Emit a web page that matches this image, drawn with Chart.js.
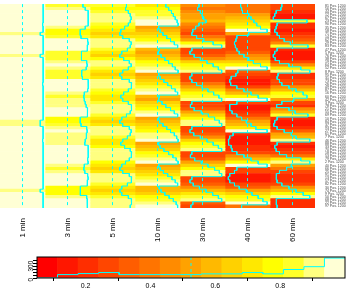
<!DOCTYPE html>
<html><head><meta charset="utf-8">
<script src="https://cdn.jsdelivr.net/npm/chart.js@4"></script>
<style>
body{margin:0;background:#fff;width:349px;height:294px;overflow:hidden;position:relative}
#heat{position:absolute;left:0;top:0}
#key{position:absolute;left:0;top:250px}
</style></head><body>
<canvas id="heat" width="349" height="250"></canvas>
<canvas id="key" width="349" height="44"></canvas>
<script>
// columns of the heatmap
var times = ["1 min","3 min","5 min","10 min","30 min","40 min","60 min"];

var rowLabels = [
 "81 Pos. 1200","56 Pos. 1200","44 Pos. 1200","12 Pos. 1200","67 Pos. 1200","23 Pos. 1200","90 Pos. 1200","35 Pos. 1200","58 Pos. 1200","71 Pos. 1200",
 "14 Pos. 1200","62 Pos. 1200","29 Pos. 1200","83 Pos. 1200","47 Pos. 1200","5 Pos. 1200","76 Pos. 1200","38 Pos. 1200","19 Pos. 1200","64 Pos. 1200",
 "52 Pos. 1200","8 Pos. 1200","95 Pos. 1200","31 Pos. 1200","73 Pos. 1200","26 Pos. 1200","49 Pos. 1200","87 Pos. 1200","16 Pos. 1200","60 Pos. 1200",
 "42 Pos. 1200","3 Pos. 1200","78 Pos. 1200","21 Pos. 1200","55 Pos. 1200","69 Pos. 1200","10 Pos. 1200","84 Pos. 1200","37 Pos. 1200","93 Pos. 1200",
 "27 Pos. 1200","61 Pos. 1200","7 Pos. 1200","46 Pos. 1200","88 Pos. 1200","33 Pos. 1200","70 Pos. 1200","18 Pos. 1200","53 Pos. 1200","79 Pos. 1200",
 "2 Pos. 1200","40 Pos. 1200","66 Pos. 1200","25 Pos. 1200","91 Pos. 1200","13 Pos. 1200","57 Pos. 1200","82 Pos. 1200","30 Pos. 1200","74 Pos. 1200",
 "9 Pos. 1200","50 Pos. 1200","68 Pos. 1200","22 Pos. 1200","97 Pos. 1200"
];

// values, one list per column, top row first
var v1min = [.96,.96,.96,.97,.96,.96,.95,.96,.96,.90,
 .96,.96,.96,.97,.96,.96,.90,.96,.96,.96,
 .96,.97,.96,.96,.96,.95,.96,.96,.96,.96,
 .96,.96,.96,.96,.97,.96,.96,.90,.90,.96,
 .96,.96,.96,.95,.96,.96,.96,.96,.96,.97,
 .96,.96,.96,.96,.96,.96,.96,.96,.96,.90,
 .96,.96,.96,.96,.96];
var v3min = [.85,.90,.96,.96,.97,.96,.96,.90,.80,.79,
 .81,.95,.96,.95,.94,.82,.81,.83,.93,.94,
 .92,.83,.82,.84,.96,.97,.96,.95,.88,.87,
 .88,.90,.92,.95,.95,.94,.80,.79,.81,.93,
 .94,.93,.92,.90,.89,.96,.96,.97,.96,.95,
 .96,.88,.87,.89,.95,.96,.95,.94,.80,.79,
 .80,.93,.94,.95,.94];
var v5min = [.82,.80,.86,.90,.92,.90,.86,.78,.70,.68,
 .74,.88,.92,.90,.84,.72,.68,.76,.88,.92,
 .86,.74,.68,.72,.88,.93,.92,.86,.76,.70,
 .74,.86,.92,.93,.90,.82,.72,.68,.74,.88,
 .92,.90,.84,.74,.70,.78,.90,.93,.92,.88,
 .80,.72,.68,.74,.88,.93,.92,.84,.72,.68,
 .72,.86,.92,.93,.90];
var v10min = [.70,.76,.82,.86,.90,.94,.96,.55,.58,.64,
 .72,.80,.88,.95,.56,.54,.60,.68,.76,.84,
 .90,.96,.55,.58,.66,.74,.82,.90,.95,.56,
 .55,.62,.70,.80,.88,.95,.55,.57,.64,.72,
 .80,.88,.93,.96,.55,.58,.66,.76,.85,.92,
 .96,.55,.58,.65,.74,.83,.90,.95,.56,.60,
 .68,.77,.86,.92,.95];
var v30min = [.45,.42,.48,.52,.55,.60,.45,.38,.32,.30,
 .40,.55,.75,.93,.30,.26,.35,.48,.62,.75,
 .86,.93,.30,.26,.30,.40,.52,.64,.76,.87,
 .93,.30,.27,.35,.50,.65,.78,.88,.93,.30,
 .26,.34,.48,.62,.75,.86,.93,.30,.27,.36,
 .50,.64,.78,.88,.93,.30,.26,.33,.46,.60,
 .74,.86,.93,.32,.28];
var v40min = [.38,.40,.42,.55,.60,.66,.72,.80,.94,.55,
 .30,.28,.25,.27,.30,.35,.45,.55,.65,.80,
 .94,.32,.28,.18,.15,.17,.30,.45,.60,.75,
 .94,.30,.15,.15,.20,.30,.40,.50,.60,.70,
 .94,.22,.15,.12,.13,.18,.20,.30,.45,.60,
 .75,.94,.30,.25,.15,.12,.15,.25,.35,.50,
 .62,.75,.85,.94,.40];
var v60min = [.30,.28,.18,.15,.12,.83,.20,.18,.15,.20,
 .25,.35,.48,.85,.20,.15,.12,.16,.25,.45,
 .70,.89,.22,.20,.25,.30,.45,.60,.75,.83,
 .55,.30,.19,.45,.58,.85,.20,.15,.13,.20,
 .35,.50,.60,.89,.20,.15,.18,.25,.40,.70,
 .89,.50,.40,.25,.19,.18,.20,.30,.45,.60,
 .75,.89,.19,.18,.20];
var columns = [v1min, v3min, v5min, v10min, v30min, v40min, v60min];

// colour key: bin counts of the histogram
var keyCounts = [0,59,77,95,59,59,59,59,72,72,95,72,148,197,347];
var keyTicks = [0.2,0.4,0.6,0.8];

var lo = 0.05, hi = 1.0, nBins = 15, vline = 0.525;
var palette = ['#FF0000','#FF1700','#FF2E00','#FF4600','#FF5D00','#FF7400','#FF8B00',
 '#FFA200','#FFB900','#FFD100','#FFE800','#FFFF00','#FFFF2A','#FFFF80','#FFFFD5'];
var binW = (hi - lo) / nBins;
var trace = '#00FFFF';

function colorOf(v) {
  var b = Math.floor((v - lo) / binW);
  if (b < 0) b = 0;
  if (b > nBins - 1) b = nBins - 1;
  return palette[b];
}
function scale01(v) { return (v - lo) / (hi - lo); }

var nRows = rowLabels.length;
var datasets = [];
columns.forEach(function (col, c) {
  datasets.push({
    type: 'bar', order: 2, grouped: false,
    data: col.map(function (v, r) { return {x: times[c], y: [r, r + 1]}; }),
    backgroundColor: col.map(colorOf),
    borderWidth: 0, barPercentage: 1, categoryPercentage: 1,
    xAxisID: 'x', yAxisID: 'y'
  });
});
columns.forEach(function (col, c) {
  var pts = [];
  col.forEach(function (v, r) {
    pts.push({x: c + scale01(v), y: r});
    pts.push({x: c + scale01(v), y: r + 1});
  });
  datasets.push({
    type: 'line', order: 0, data: pts, borderColor: trace, borderWidth: 1,
    pointRadius: 0, tension: 0, fill: false, xAxisID: 'x2', yAxisID: 'y'
  });
  datasets.push({
    type: 'line', order: 1,
    data: [{x: c + scale01(vline), y: 0}, {x: c + scale01(vline), y: nRows}],
    borderColor: trace, borderWidth: 1, borderDash: [3, 3],
    pointRadius: 0, fill: false, xAxisID: 'x2', yAxisID: 'y'
  });
});

new Chart(document.getElementById('heat'), {
  type: 'bar',
  data: {labels: times, datasets: datasets},
  options: {
    responsive: false, animation: false,
    layout: {padding: 0},
    plugins: {legend: {display: false}, tooltip: {enabled: false}},
    scales: {
      x: {
        type: 'category', offset: true,
        grid: {display: false}, border: {display: false},
        ticks: {minRotation: 90, maxRotation: 90, color: '#000', padding: 2,
          font: {family: 'Liberation Sans', size: 8}},
        afterFit: function (s) { s.height = 42; }
      },
      x2: {type: 'linear', min: 0, max: times.length, offset: false, display: false},
      y: {type: 'linear', min: 0, max: nRows, reverse: true, offset: false, display: false},
      y2: {
        type: 'category', position: 'right', labels: rowLabels, offset: true,
        grid: {display: false}, border: {display: false},
        ticks: {autoSkip: false, color: '#444', padding: 2,
          font: {family: 'Liberation Sans', size: 3.5}},
        afterFit: function (s) { s.width = 34; }
      }
    }
  }
});

// colour key with histogram
var maxCount = Math.max.apply(null, keyCounts);
var yTop = maxCount / 0.95;
var histPts = [];
keyCounts.forEach(function (n, i) {
  histPts.push({x: lo + i * binW, y: n});
  histPts.push({x: lo + (i + 1) * binW, y: n});
});

var frame = {
  id: 'frame',
  afterDatasetsDraw: function (chart) {
    var a = chart.chartArea, ctx = chart.ctx;
    ctx.save();
    ctx.strokeStyle = '#000';
    ctx.lineWidth = 1;
    ctx.strokeRect(a.left, a.top, a.right - a.left, a.bottom - a.top);
    ctx.restore();
  }
};

new Chart(document.getElementById('key'), {
  type: 'bar',
  data: {
    datasets: [
      {type: 'line', order: 0, data: histPts, borderColor: trace, borderWidth: 1,
        pointRadius: 0, tension: 0, fill: false},
      {type: 'line', order: 1, data: [{x: vline, y: 0}, {x: vline, y: yTop}],
        borderColor: trace, borderWidth: 1, borderDash: [3, 3], pointRadius: 0, fill: false},
      {type: 'bar', order: 2,
        data: palette.map(function (p, i) { return {x: lo + (i + 0.5) * binW, y: [0, yTop]}; }),
        backgroundColor: palette, borderWidth: 0, barPercentage: 1, categoryPercentage: 1}
    ]
  },
  options: {
    responsive: false, animation: false,
    layout: {padding: {top: 7, right: 4, left: 0, bottom: 0}},
    plugins: {legend: {display: false}, tooltip: {enabled: false}},
    scales: {
      x: {
        type: 'linear', min: lo, max: hi, offset: false,
        grid: {display: true, drawOnChartArea: false, tickLength: 3, color: '#000'},
        border: {display: false},
        afterBuildTicks: function (s) { s.ticks = keyTicks.map(function (v) { return {value: v}; }); },
        ticks: {color: '#000', padding: 1, maxRotation: 0, autoSkip: false,
          font: {family: 'Liberation Sans', size: 7},
          callback: function (v) { return v.toFixed(1); }},
        afterFit: function (s) { s.height = 16; }
      },
      y: {
        type: 'linear', min: 0, max: yTop, offset: false,
        grid: {display: true, drawOnChartArea: false, tickLength: 4, color: '#000'},
        border: {display: false},
        afterBuildTicks: function (s) {
          var t = [];
          for (var v = 0; v <= maxCount; v += 50) t.push({value: v});
          s.ticks = t;
        },
        ticks: {color: '#000', padding: 2, minRotation: 90, maxRotation: 90, autoSkip: false,
          font: {family: 'Liberation Sans', size: 6.5},
          callback: function (v) { return (v === 0 || v === 300) ? String(v) : ''; }},
        afterFit: function (s) { s.width = 37; }
      }
    }
  },
  plugins: [frame]
});
</script>
</body></html>
